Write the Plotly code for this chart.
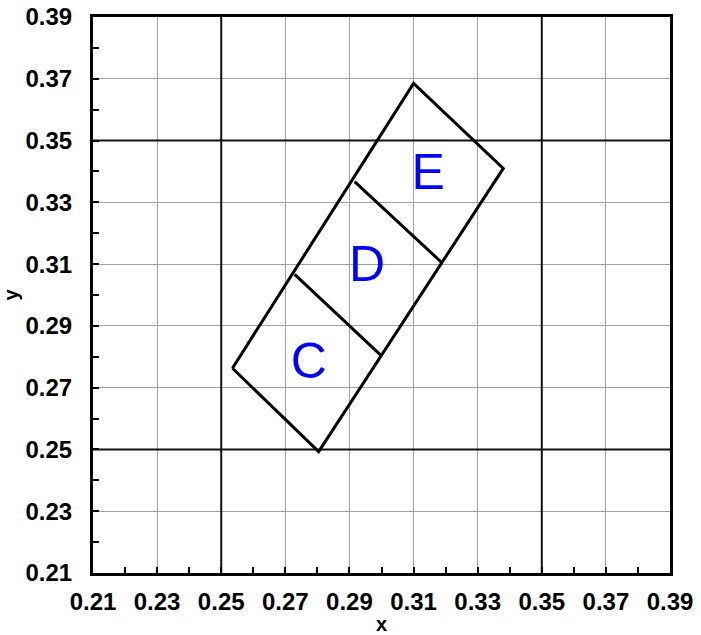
import plotly.graph_objects as go

# outer rectangle corners (left, top, right, bottom)
outline_x = [0.2535, 0.3100, 0.3380, 0.2804, 0.2535]
outline_y = [0.2763, 0.3685, 0.3410, 0.2493, 0.2763]

# dividers between cells
div_x = [0.2916, 0.3187, None, 0.2729, 0.3000]
div_y = [0.3367, 0.3106, None, 0.3067, 0.2803]

labels = ["C", "D", "E"]
label_x = [0.2773, 0.2955, 0.3146]
label_y = [0.2773, 0.3086, 0.3383]

tick_vals = [0.21, 0.23, 0.25, 0.27, 0.29, 0.31, 0.33, 0.35, 0.37, 0.39]
tick_text = ["0.21", "0.23", "0.25", "0.27", "0.29", "0.31", "0.33", "0.35", "0.37", "0.39"]
axis_range = [0.21, 0.39]
dark_lines = [0.25, 0.35]

fig = go.Figure()

# darker reference lines at 0.25 and 0.35
for v in dark_lines:
    fig.add_trace(go.Scatter(x=[v, v], y=axis_range, mode="lines",
                             line=dict(color="#111111", width=2), hoverinfo="skip"))
    fig.add_trace(go.Scatter(x=axis_range, y=[v, v], mode="lines",
                             line=dict(color="#111111", width=2), hoverinfo="skip"))

fig.add_trace(go.Scatter(x=outline_x, y=outline_y, mode="lines",
                         line=dict(color="black", width=3), hoverinfo="skip"))
fig.add_trace(go.Scatter(x=div_x, y=div_y, mode="lines",
                         line=dict(color="black", width=3), hoverinfo="skip"))
fig.add_trace(go.Scatter(x=label_x, y=label_y, mode="text", text=labels,
                         textfont=dict(family="Liberation Sans", size=50, color="#0000ff"),
                         hoverinfo="skip"))

tickfont = dict(family="Liberation Sans", size=24, color="black", weight="bold")
titlefont = dict(family="Liberation Sans", size=20, color="black", weight="bold")

axis_common = dict(
    range=axis_range,
    tickvals=tick_vals,
    ticktext=tick_text,
    tickfont=tickfont,
    automargin=False,
    showgrid=True,
    gridcolor="#a0a0a0",
    gridwidth=1.3,
    zeroline=False,
    showline=True,
    linecolor="black",
    linewidth=3,
    mirror=True,
    ticks="inside",
    ticklen=6,
    tickwidth=2,
    tickcolor="black",
    minor=dict(dtick=0.01, tick0=0.21, ticks="inside", ticklen=6, tickwidth=2,
               tickcolor="black", showgrid=False),
)

fig.update_xaxes(**axis_common, ticklabelstandoff=5,
                 title=dict(text="x", font=titlefont, standoff=4))
fig.update_yaxes(**axis_common, ticklabelstandoff=13,
                 title=dict(text="y", font=titlefont, standoff=4))

fig.update_layout(
    width=701, height=635,
    margin=dict(l=93, r=31, t=17, b=62),
    plot_bgcolor="white",
    paper_bgcolor="white",
    showlegend=False,
)

fig.write_html("out.html", config={"displayModeBar": False},
               post_script="document.body.style.margin='0';")
